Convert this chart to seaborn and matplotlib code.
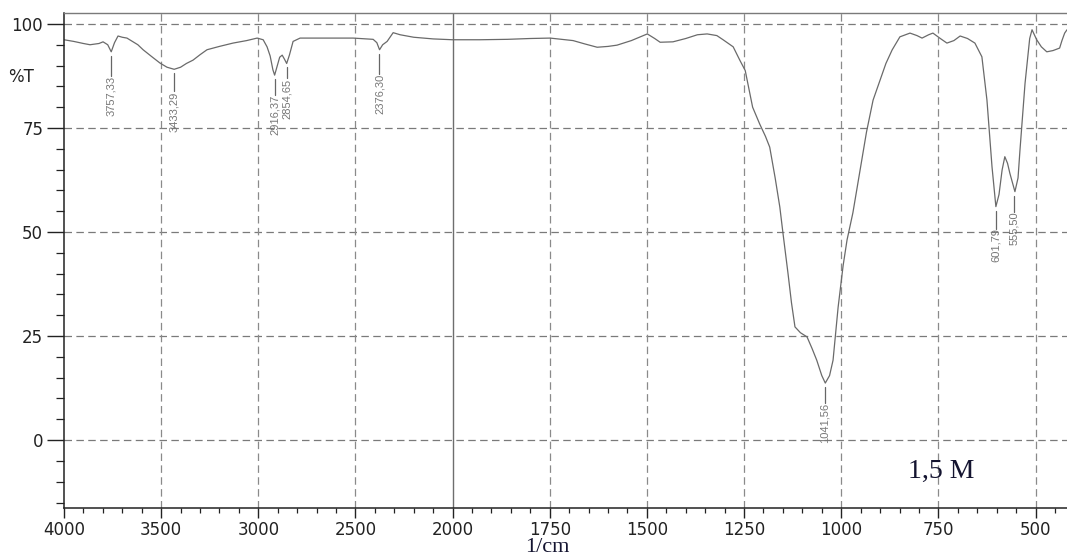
import numpy as np
import pandas as pd
import matplotlib
matplotlib.use("Agg")
import matplotlib.pyplot as plt
import seaborn as sns

# ---- data ----
wavenumber = [4000, 3950, 3900, 3866, 3820, 3799, 3775, 3757, 3740, 3722, 3700, 3676,
              3645, 3620, 3593, 3550, 3506, 3470, 3433, 3400, 3370, 3336, 3300, 3264,
              3200, 3130, 3060, 3006, 2975, 2955, 2939, 2925, 2916, 2905, 2890, 2877,
              2865, 2854, 2840, 2821, 2785, 2700, 2600, 2512, 2409, 2390, 2376, 2360,
              2337, 2306, 2270, 2200, 2100, 2000, 1930, 1859, 1800, 1749, 1690, 1660,
              1628, 1600, 1577, 1540, 1499, 1480, 1466, 1433, 1400, 1370, 1345, 1320,
              1304, 1278, 1261, 1247, 1228, 1210, 1195, 1184, 1170, 1158, 1150, 1137,
              1128, 1119, 1105, 1088, 1075, 1063, 1050, 1041, 1030, 1021, 1008, 995,
              985, 970, 952, 935, 918, 900, 885, 869, 849, 823, 805, 792, 775, 764,
              745, 728, 710, 694, 675, 656, 638, 625, 612, 602, 594, 586, 579, 572,
              566, 553, 545, 540, 527, 515, 509, 497, 485, 471, 455, 438, 432, 425, 419]
transmittance = [96.2, 95.8, 95.3, 95.0, 95.3, 95.7, 95.0, 93.3, 95.5, 97.1, 96.8, 96.6,
                 95.7, 95.0, 93.8, 92.2, 90.6, 89.6, 89.1, 89.6, 90.5, 91.3, 92.6, 93.8,
                 94.6, 95.4, 96.0, 96.6, 96.2, 94.5, 92.3, 89.0, 87.7, 89.5, 92.0, 92.5,
                 91.5, 90.5, 92.5, 95.8, 96.6, 96.6, 96.6, 96.6, 96.3, 95.5, 93.8, 95.0,
                 95.8, 97.9, 97.4, 96.8, 96.4, 96.2, 96.2, 96.3, 96.5, 96.6, 96.0, 95.2,
                 94.4, 94.6, 94.9, 96.0, 97.6, 96.5, 95.6, 95.7, 96.5, 97.4, 97.6, 97.2,
                 96.2, 94.5, 91.3, 88.8, 80.0, 76.0, 73.0, 70.4, 63.0, 56.0, 49.8, 40.1,
                 33.0, 27.2, 25.8, 24.8, 22.0, 19.2, 15.5, 13.7, 15.5, 19.2, 31.9, 42.0,
                 48.1, 54.6, 64.5, 74.0, 81.7, 86.5, 90.5, 93.75, 96.9, 97.8, 97.2, 96.6, 97.4, 97.8,
                 96.5, 95.4, 96.0, 97.1, 96.5, 95.4, 92.1, 81.7, 65.7, 56.1, 59.0, 64.9, 68.1, 66.5,
                 64.1, 59.7, 63.0, 69.7, 85.7, 96.5, 98.6, 96.2, 94.5, 93.3, 93.6, 94.2, 96.0, 97.8, 98.6]

peak_pos = [3757.33, 3433.29, 2916.37, 2854.65, 2376.30, 1041.56, 601.79, 555.50]
peak_T = [93.3, 89.1, 87.7, 90.5, 93.8, 13.7, 56.1, 59.7]
peak_labels = ["3757,33", "3433,29", "2916,37", "2854,65", "2376,30", "1041,56", "601,79", "555,50"]
peak_line_px = [20, 18, 16, 11, 20, 16, 18, 16]

x_major = [4000, 3500, 3000, 2500, 2000, 1750, 1500, 1250, 1000, 750, 500]
y_major = [0, 25, 50, 75, 100]
sample_label = "1,5 M"

df = pd.DataFrame({"wavenumber": wavenumber, "T": transmittance})

sns.set_style("white")
plt.rcParams["font.family"] = ["DejaVu Sans"]

W, H = 1067, 557
fig = plt.figure(figsize=(W / 100, H / 100), dpi=100)
ax_left, ax_right, ax_top, ax_bot = 64, 1067, 12.7, 507.5
ax = fig.add_axes([ax_left / W, 1 - ax_bot / H, (ax_right - ax_left) / W, (ax_bot - ax_top) / H])

def fwd(x):
    x = np.asarray(x, dtype=float)
    return np.where(x > 2000, 2000 + (x - 2000) / 2.0, x)

def inv(u):
    u = np.asarray(u, dtype=float)
    return np.where(u > 2000, 2000 + (u - 2000) * 2.0, u)

ax.set_xscale("function", functions=(fwd, inv))

sns.lineplot(data=df, x="wavenumber", y="T", sort=False, ax=ax, color="#6a6a6a",
             linewidth=0.9, estimator=None)

ax.set_xlim(4000, 419)
ax.set_ylim(-16.2, 102.7)

# grid
dash = (0, (6, 3.5))
for yv in y_major:
    ax.axhline(yv, color="#7a7a7a", lw=0.9, ls=dash, zorder=0)
for xv in x_major[1:]:
    if xv == 2000:
        ax.axvline(xv, color="#6e6e6e", lw=1.0, zorder=0)
    else:
        ax.axvline(xv, color="#8a8a8a", lw=0.9, ls=dash, zorder=0)

# ticks
ax.set_xticks(x_major)
ax.set_xticklabels([str(v) for v in x_major])
ax.set_xticks(list(range(4000, 2000, -100)) + list(range(2000, 400, -50)), minor=True)
ax.set_yticks(y_major)
ax.set_yticklabels([str(v) for v in y_major])
ax.set_yticks(list(range(-15, 101, 5)), minor=True)
ax.tick_params(axis="x", which="major", length=7, width=1.0, color="#222222",
               labelsize=12, labelcolor="#222222", pad=2.5, direction="out", bottom=True)
ax.tick_params(axis="x", which="minor", length=3.5, width=0.9, color="#222222", bottom=True)
ax.tick_params(axis="y", which="major", length=12, width=1.0, color="#222222",
               labelsize=12, labelcolor="#222222", pad=3, direction="out", left=True)
ax.tick_params(axis="y", which="minor", length=6, width=0.9, color="#222222", left=True)

for s in ["left", "bottom"]:
    ax.spines[s].set_color("#222222")
    ax.spines[s].set_linewidth(1.1)
ax.spines["top"].set_color("#7a7a7a")
ax.spines["top"].set_linewidth(1.0)
ax.spines["right"].set_visible(False)

ax.set_xlabel("")
ax.set_ylabel("")

# %T label
fig.text(8 / W, 1 - 77 / H, "%T", fontsize=12, color="#222222", va="center", ha="left")

# peak annotations
px_per_unit = (ax_bot - ax_top) / (102.7 + 16.2)
gap_px = 4
for xp, tp, lab, lp in zip(peak_pos, peak_T, peak_labels, peak_line_px):
    y0 = tp - gap_px / px_per_unit
    y1 = tp - (gap_px + lp) / px_per_unit
    ax.plot([xp, xp], [y0, y1], color="#666666", lw=0.9)
    ax.text(xp, y1, lab, rotation=90, va="top", ha="center", fontsize=8,
            color="#777777", family=["Liberation Sans", "DejaVu Sans"])

# sample label
ax.text(0.875, 0.059, sample_label, transform=ax.transAxes, ha="center", va="baseline",
        fontsize=20, color="#141430", family=["Liberation Serif", "DejaVu Serif"])

# x axis title
fig.text(547 / W, 0.0, "1/cm", ha="center", va="bottom", fontsize=16,
         color="#141430", family=["Liberation Serif", "DejaVu Serif"])

fig.savefig("out.png", dpi=100)
